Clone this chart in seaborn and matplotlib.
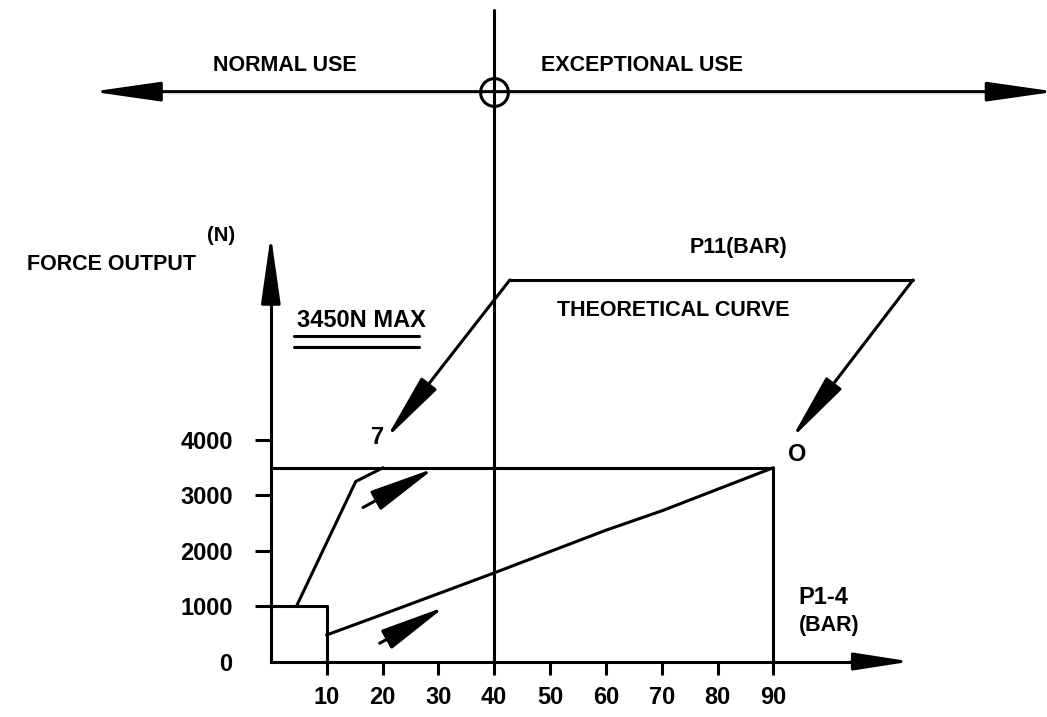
import matplotlib
matplotlib.use("Agg")
import matplotlib.pyplot as plt
import seaborn as sns

# chart values (pressure in bar, force in N)
pressure_ticks = [10, 20, 30, 40, 50, 60, 70, 80, 90]
force_ticks = [0, 1000, 2000, 3000, 4000]
max_force = 3500
max_pressure = 90
use_limit = 40

# low curve P1-4
low_p = [10, 20, 40, 60, 70, 90]
low_f = [480, 850, 1600, 2370, 2720, 3500]

# steep curve P11
high_p = [4.6, 15.2, 20.1]
high_f = [1000, 3250, 3500]

# start box
box_p = [0, 10, 10]
box_f = [1000, 1000, 0]

# theoretical curve callout (parallelogram)
theory_p = [20.6, 42.8, 115.0, 93.2]
theory_f = [4020, 6890, 6890, 4020]

# direction arrows along the curves
dir_tail_p = [16.5, 19.5]
dir_tail_f = [2780, 330]
dir_tip_p = [29.3, 31.2]
dir_tip_f = [3490, 990]

band_y = 10290
band_left, band_right = -32.0, 140.5
limit_top = 11760

sns.set_theme(style="white")
plt.rcParams["font.family"] = ["Liberation Sans", "DejaVu Sans"]
plt.rcParams["font.weight"] = "bold"

fig = plt.figure(figsize=(10.47, 7.17), dpi=100)
ax = fig.add_axes([0, 0, 1, 1])
ax.set_xlim(-48.5, 139.0)
ax.set_ylim(-1002, 11945)

lw = 2.2
line_kw = dict(color="black", lw=lw, estimator=None, sort=False, ax=ax)


def arrow(tip, tail, style):
    ax.annotate("", xy=tip, xytext=tail, annotation_clip=False,
                arrowprops=dict(arrowstyle=style, color="black", lw=lw,
                                shrinkA=0, shrinkB=0))


# frame of the chart
sns.lineplot(x=[0, max_pressure, max_pressure], y=[max_force, max_force, 0], **line_kw)
sns.lineplot(x=box_p, y=box_f, **line_kw)
sns.lineplot(x=low_p, y=low_f, **line_kw)
sns.lineplot(x=high_p, y=high_f, **line_kw)
sns.lineplot(x=[use_limit, use_limit], y=[0, limit_top], **line_kw)

# theoretical curve callout
sns.lineplot(x=theory_p[1:3], y=theory_f[1:3], **line_kw)
for a, b in [(1, 0), (2, 3)]:
    arrow((theory_p[b], theory_f[b]), (theory_p[a], theory_f[a]),
          "-|>,head_length=3.5,head_width=0.5")

for tp, tf, hp, hf in zip(dir_tail_p, dir_tail_f, dir_tip_p, dir_tip_f):
    arrow((hp, hf), (tp, tf), "-|>,head_length=3.4,head_width=0.55")

# normal / exceptional use band
arrow((band_right, band_y), (band_left, band_y), "<|-|>,head_length=3.5,head_width=0.5")
ax.plot([use_limit], [band_y], marker="o", ms=20, mfc="none", mec="black", mew=lw)

# axes
for s in ["top", "right"]:
    ax.spines[s].set_visible(False)
for s in ["left", "bottom"]:
    ax.spines[s].set_position(("data", 0))
    ax.spines[s].set_color("black")
    ax.spines[s].set_linewidth(lw)
ax.spines["left"].set_bounds(0, 7000)
ax.spines["bottom"].set_bounds(0, 106)
arrow((0, 7700), (0, 6800), "-|>,head_length=3.5,head_width=0.5")
arrow((114.6, 0), (104, 0), "-|>,head_length=2.9,head_width=0.45")

ax.set_xticks(pressure_ticks)
ax.set_yticks(force_ticks)
ax.set_xticklabels([str(v) for v in pressure_ticks])
ax.set_yticklabels([str(v) for v in force_ticks])
ax.tick_params(axis="x", direction="out", length=9.7, width=lw, color="black",
               pad=8, labelsize=17, labelcolor="black", bottom=True)
ax.tick_params(axis="y", direction="out", length=11.5, width=lw, color="black",
               pad=16, labelsize=17, labelcolor="black", left=True)
ax.yaxis.get_major_ticks()[0].tick1line.set_visible(False)
ax.set_xlabel("")
ax.set_ylabel("")

# labels
t = dict(color="black", fontsize=15.5, fontweight="bold", va="center")
n = dict(color="black", fontsize=17, fontweight="bold", va="center")
ax.text(2.5, 10770, "NORMAL USE", ha="center", **t)
ax.text(66.4, 10770, "EXCEPTIONAL USE", ha="center", **t)
ax.text(-43.7, 7160, "FORCE OUTPUT", ha="left", **t)
ax.text(-11.5, 7700, "(N)", ha="left", color="black", fontsize=14.5, fontweight="bold", va="center")
ax.text(83.8, 7467, "P11(BAR)", ha="center", **t)
ax.text(51.2, 6347, "THEORETICAL CURVE", ha="left", **t)
ax.text(4.66, 6166, "3450N MAX", ha="left", **n)
ax.plot([4.1, 26.5], [5878, 5878], color="black", lw=lw)
ax.plot([4.1, 26.5], [5679, 5679], color="black", lw=lw)
ax.text(19.2, 4036, "7", ha="center", **n)
ax.text(94.2, 3747, "O", ha="center", **n)
ax.text(94.4, 1147, "P1-4", ha="left", **n)
ax.text(94.6, 659, "(BAR)", ha="left", **t)

fig.savefig("out.png", dpi=100, facecolor="white")
